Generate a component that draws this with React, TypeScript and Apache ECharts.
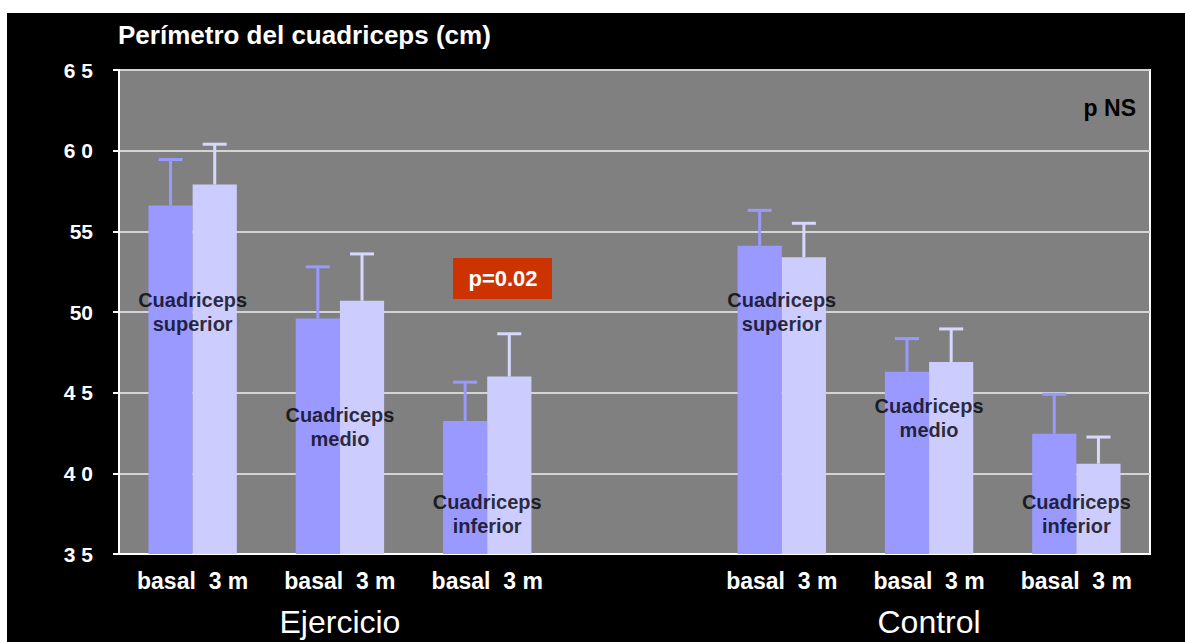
import React, { useEffect, useRef } from 'react';
import * as echarts from 'echarts';

// ---- data ----
const groupKeys = ['ej-sup', 'ej-med', 'ej-inf', 'gap', 'co-sup', 'co-med', 'co-inf'];
const xTickLabels = ['basal  3 m', 'basal  3 m', 'basal  3 m', '', 'basal  3 m', 'basal  3 m', 'basal  3 m'];
const groupTitles = ['', 'Ejercicio', '', '', '', 'Control', ''];
const basalMean = [56.6, 49.6, 43.25, null, 54.1, 46.3, 42.45];
const basalSD = [2.85, 3.2, 2.4, null, 2.2, 2.05, 2.45];
const m3Mean = [57.9, 50.7, 46.0, null, 53.4, 46.9, 40.6];
const m3SD = [2.5, 2.9, 2.65, null, 2.1, 2.05, 1.65];
const muscleLabels = ['Cuadriceps\nsuperior', 'Cuadriceps\nmedio', 'Cuadriceps\ninferior', '', 'Cuadriceps\nsuperior', 'Cuadriceps\nmedio', 'Cuadriceps\ninferior'];
const muscleLabelAt = [50.0, 42.85, 37.45, null, 50.0, 43.4, 37.45];
const yTickValues = [35, 40, 45, 50, 55, 60, 65];
const yTickTexts = ['3 5', '4 0', '4 5', '50', '55', '6 0', '6 5'];
const titleText = 'Perímetro del cuadriceps (cm)';
const pText = 'p=0.02';
const pNsText = 'p NS';

const FONT = '"Liberation Sans", Arial, sans-serif';
const BASAL = '#9999ff';
const M3 = '#ccccff';

function errSeries(name: string, means: (number | null)[], sds: (number | null)[], color: string, sign: number) {
  const data: number[][] = [];
  means.forEach((m, i) => {
    const s = sds[i];
    if (m != null && s != null) data.push([i, m, m + s]);
  });
  return {
    type: 'custom',
    name,
    data,
    encode: { x: 0, y: [1, 2] },
    z: 3,
    renderItem: (params: any, api: any) => {
      const idx = api.value(0);
      const mean = api.value(1);
      const top = api.value(2);
      const band = api.size([1, 0])[0];
      const off = (band * 0.3) / 2 * sign;
      const p0 = api.coord([idx, mean]);
      const p1 = api.coord([idx, top]);
      const x = p0[0] + off;
      return {
        type: 'group',
        children: [
          { type: 'line', shape: { x1: x, y1: p0[1], x2: x, y2: p1[1] }, style: { stroke: color, lineWidth: 3 } },
          { type: 'line', shape: { x1: x - 12, y1: p1[1], x2: x + 12, y2: p1[1] }, style: { stroke: color, lineWidth: 3 } },
        ],
      };
    },
  };
}

export default function App() {
  const ref = useRef<HTMLDivElement>(null);
  useEffect(() => {
    if (!ref.current) return;
    const chart = echarts.init(ref.current, undefined, { renderer: 'svg' });
    const labelData: any[] = [];
    muscleLabels.forEach((t, i) => {
      const y = muscleLabelAt[i];
      if (t && y != null) labelData.push({ value: [i, y], name: t });
    });
    chart.setOption({
      animation: false,
      backgroundColor: '#000',
      textStyle: { fontFamily: FONT },
      grid: {
        left: 112, top: 57, right: 35, bottom: 88,
        show: true, backgroundColor: '#808080', borderColor: '#ffffff', borderWidth: 2,
      },
      xAxis: {
        type: 'category',
        data: groupKeys,
        axisLine: { lineStyle: { color: '#ffffff', width: 2 } },
        axisTick: { show: false },
        axisLabel: {
          interval: 0,
          margin: 13,
          formatter: (v: string, i: number) => {
            const t = xTickLabels[i];
            const g = groupTitles[i];
            return g ? `{a|${t}}\n{g|${g}}` : `{a|${t}}`;
          },
          rich: {
            a: { fontSize: 23, fontWeight: 'bold', color: '#ffffff', lineHeight: 28, fontFamily: FONT },
            g: { fontSize: 32, color: '#ffffff', lineHeight: 54, fontFamily: FONT },
          },
        },
      },
      yAxis: {
        type: 'value',
        min: 35, max: 65, interval: 5,
        axisLine: { show: true, lineStyle: { color: '#ffffff', width: 2 } },
        axisTick: { show: true, length: 6, lineStyle: { color: '#ffffff', width: 2 } },
        splitLine: { lineStyle: { color: '#d4d4d4', width: 2 } },
        axisLabel: {
          margin: 26,
          color: '#ffffff',
          fontSize: 21,
          fontWeight: 'bold',
          formatter: (v: number) => {
            const k = yTickValues.indexOf(v);
            return k >= 0 ? yTickTexts[k] : '';
          },
        },
      },
      series: [
        { type: 'bar', name: 'basal', data: basalMean, barWidth: '30%', barGap: '0%', itemStyle: { color: BASAL }, z: 2 },
        { type: 'bar', name: '3 m', data: m3Mean, barWidth: '30%', barGap: '0%', itemStyle: { color: M3 }, z: 2 },
        errSeries('basal-err', basalMean, basalSD, BASAL, -1),
        errSeries('3m-err', m3Mean, m3SD, '#d8d8ff', 1),
        {
          type: 'scatter',
          name: 'labels',
          data: labelData,
          symbolSize: 2,
          itemStyle: { color: 'rgba(0,0,0,0)' },
          z: 5,
          label: {
            show: true,
            position: 'inside',
            formatter: (p: any) => p.name,
            color: '#000008',
            fontSize: 20,
            fontWeight: 'bold',
            lineHeight: 24,
            align: 'center',
            verticalAlign: 'middle',
            fontFamily: FONT,
          },
        },
      ],
      graphic: [
        {
          type: 'text', left: 111, top: 9,
          style: { text: titleText, fill: '#ffffff', fontSize: 26, fontWeight: 'bold', fontFamily: FONT },
        },
        {
          type: 'rect', shape: { x: 446, y: 245, width: 99, height: 41 },
          style: { fill: '#cc3300' }, z: 10,
        },
        {
          type: 'text', x: 496, y: 265, z: 11,
          style: { text: pText, fill: '#ffffff', fontSize: 22, fontWeight: 'bold', fontFamily: FONT, align: 'center', verticalAlign: 'middle' },
        },
        {
          type: 'text', x: 1129, y: 95, z: 11,
          style: { text: pNsText, fill: '#000000', fontSize: 23, fontWeight: 'bold', fontFamily: FONT, align: 'right', verticalAlign: 'middle' },
        },
      ],
    });
    return () => chart.dispose();
  }, []);
  return (
    <div style={{ position: 'fixed', left: 0, top: 0, width: 1185, height: 642, background: '#ffffff' }}>
      <div ref={ref} style={{ position: 'absolute', left: 7, top: 13, width: 1178, height: 629 }} />
    </div>
  );
}
